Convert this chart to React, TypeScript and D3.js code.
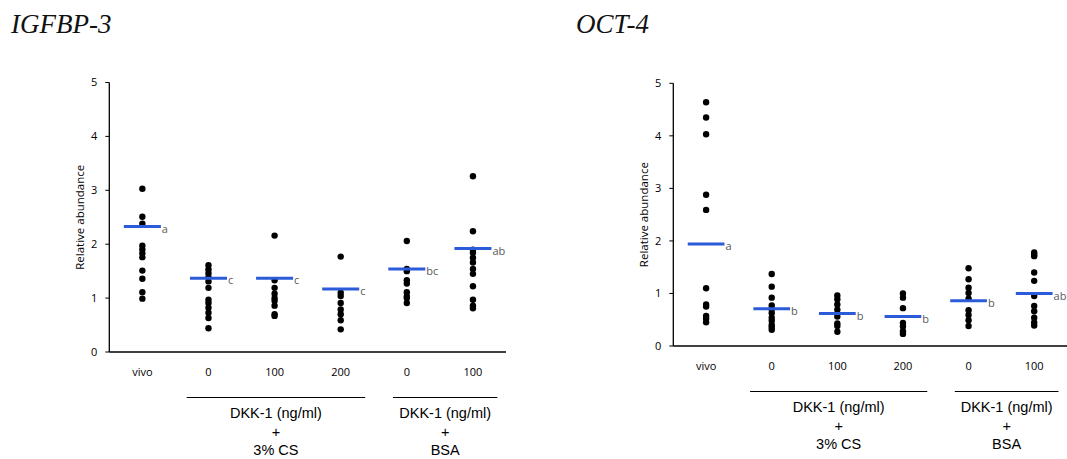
import React from 'react'
import * as d3 from 'd3'

// categories along the x axis (vivo, then DKK-1 doses with 3% CS, then with BSA)
const categories = ['vivo', '0', '100', '200', '0', '100']
const yTicks = [0, 1, 2, 3, 4, 5]

// IGFBP-3 individual points per group
const igfbpPoints = [
  [3.03, 2.51, 2.38, 1.97, 1.9, 1.83, 1.76, 1.51, 1.36, 1.11, 0.99],
  [1.61, 1.53, 1.46, 1.39, 1.31, 1.19, 0.97, 0.91, 0.82, 0.73, 0.63, 0.44],
  [2.16, 1.33, 1.19, 1.08, 1.0, 0.95, 0.86, 0.7, 0.67],
  [1.77, 1.1, 1.04, 0.91, 0.79, 0.7, 0.59, 0.42],
  [2.06, 1.54, 1.5, 1.33, 1.27, 1.11, 1.03, 1.0, 0.91],
  [3.26, 2.24, 1.9, 1.84, 1.75, 1.66, 1.54, 1.45, 1.22, 0.97, 0.86, 0.81],
]
const igfbpMeans = [2.33, 1.37, 1.37, 1.17, 1.54, 1.92]
const igfbpLetters = ['a', 'c', 'c', 'c', 'bc', 'ab']

// OCT-4 individual points per group
const octPoints = [
  [4.64, 4.35, 4.03, 2.88, 2.59, 1.1, 0.79, 0.75, 0.57, 0.52, 0.45],
  [1.37, 1.13, 0.92, 0.77, 0.7, 0.63, 0.54, 0.48, 0.4, 0.36, 0.31],
  [0.96, 0.89, 0.79, 0.69, 0.56, 0.43, 0.38, 0.27],
  [1.0, 0.92, 0.72, 0.44, 0.37, 0.28, 0.23],
  [1.48, 1.27, 1.11, 1.01, 0.9, 0.68, 0.59, 0.49, 0.38],
  [1.78, 1.74, 1.71, 1.4, 1.24, 0.95, 0.76, 0.66, 0.54, 0.45, 0.39],
]
const octMeans = [1.94, 0.71, 0.62, 0.56, 0.86, 1.0]
const octLetters = ['a', 'b', 'b', 'b', 'b', 'ab']

const groups = [
  { from: 1, to: 3, lines: ['DKK-1 (ng/ml)', '+', '3% CS'] },
  { from: 4, to: 5, lines: ['DKK-1 (ng/ml)', '+', 'BSA'] },
]

const blue = '#2b5bd8'
const tickFont = '"Open Sans", "DejaVu Sans", sans-serif'
const armFont = '"Liberation Sans", Arial, sans-serif'

type PanelProps = {
  title: string
  titleX: number
  x0: number
  x1: number
  yBottom: number
  yTop: number
  points: number[][]
  means: number[]
  letters: string[]
}

function Panel(p: PanelProps) {
  const x = d3.scaleBand<number>().domain(d3.range(categories.length)).range([p.x0, p.x1])
  const y = d3.scaleLinear().domain([0, 5]).range([p.yBottom, p.yTop])
  const bw = x.bandwidth()
  const cx = (i: number) => (x(i) as number) + bw / 2
  const halfLine = bw * 0.28

  return (
    <g>
      <text x={p.titleX} y={33} fontFamily='"Liberation Serif", "DejaVu Serif", serif'
        fontStyle="italic" fontSize={27} fill="#111">{p.title}</text>

      {/* axes */}
      <line x1={p.x0} x2={p.x0} y1={y(5)} y2={y(0)} stroke="#000" strokeWidth={1.3} />
      <line x1={p.x0} x2={p.x1} y1={y(0)} y2={y(0)} stroke="#000" strokeWidth={1.3} />
      {yTicks.map(t => (
        <g key={t}>
          <line x1={p.x0 - 4} x2={p.x0} y1={y(t)} y2={y(t)} stroke="#000" />
          <text x={p.x0 - 12} y={y(t)} dy="0.35em" textAnchor="end" fontSize={11}
            fontFamily={tickFont} fill="#000">{t}</text>
        </g>
      ))}
      <text transform={`translate(${p.x0 - 29},${(y(0) + y(5)) / 2}) rotate(-90)`}
        textAnchor="middle" dy="0.35em" fontSize={11.5} fontFamily={tickFont} fill="#000">
        Relative abundance
      </text>

      {categories.map((c, i) => (
        <text key={i} x={cx(i)} y={y(0) + 20} dy="0.35em" textAnchor="middle" fontSize={11}
          fontFamily={tickFont} fill="#000">{c}</text>
      ))}

      {/* points */}
      {p.points.map((vals, i) => vals.map((v, j) => (
        <circle key={`${i}-${j}`} cx={cx(i)} cy={y(v)} r={3.2} fill="#000" />
      )))}

      {/* means and letters */}
      {p.means.map((m, i) => (
        <g key={i}>
          <line x1={cx(i) - halfLine} x2={cx(i) + halfLine} y1={y(m)} y2={y(m)}
            stroke={blue} strokeWidth={3} />
          <text x={cx(i) + halfLine + 1} y={y(m) + 3} dy="0.3em" fontSize={11}
            fontFamily={tickFont} fill="#595959">{p.letters[i]}</text>
        </g>
      ))}

      {/* treatment groups */}
      {groups.map((g, k) => {
        const gx0 = (x(g.from) as number) + (k === 0 ? 0.17 : 0.29) * bw
        const gx1 = (x(g.to) as number) + bw * 0.87
        const mid = (gx0 + gx1) / 2
        const ly = Math.round(y(0) + 45) + 0.5
        return (
          <g key={k}>
            <line x1={gx0} x2={gx1} y1={ly} y2={ly} stroke="#000" strokeWidth={1} />
            {g.lines.map((t, n) => (
              <text key={n} x={mid} y={y(0) + 61 + n * 18.5} dy="0.35em" textAnchor="middle"
                fontSize={14.5} fontFamily={armFont} fill="#000">{t}</text>
            ))}
          </g>
        )
      })}
    </g>
  )
}

export default function App() {
  return (
    <svg width={1067} height={459} style={{ position: 'absolute', left: 0, top: 0, background: '#fff' }}>
      <Panel title="IGFBP-3" titleX={11} x0={109.3} x1={506} yBottom={352} yTop={82.5}
        points={igfbpPoints} means={igfbpMeans} letters={igfbpLetters} />
      <Panel title="OCT-4" titleX={576} x0={673.3} x1={1067} yBottom={346} yTop={83.3}
        points={octPoints} means={octMeans} letters={octLetters} />
    </svg>
  )
}
